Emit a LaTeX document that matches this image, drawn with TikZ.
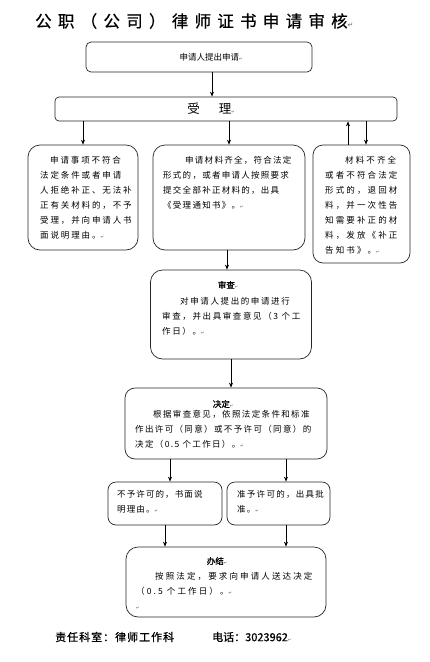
\documentclass[tikz,border=0pt]{standalone}
\usepackage{fontspec}
\setmainfont{Noto Sans CJK SC}
\newfontfamily\cjkfont{Noto Sans CJK SC}
\newfontfamily\markfont{DejaVu Sans}
\usetikzlibrary{arrows.meta, positioning}
% tiny paragraph mark as printed after each text
\newcommand{\pmk}{{\markfont\color{black!70}\fontsize{4}{4}\selectfont ↵}}

\begin{document}
\begin{tikzpicture}[x=1pt, y=-1pt, >=Stealth,
    flowbox/.style={draw=black!85, line width=0.7pt, inner sep=0pt},
    boxtext/.style={inner sep=0pt, align=left, anchor=north west,
      font=\cjkfont\addfontfeature{LetterSpace=#1}\fontsize{8.5}{15}\selectfont},
    boxtext/.default=16,
    headtext/.style={inner sep=0pt, font=\cjkfont\addfontfeature{FakeBold=1.2}\fontsize{8.5}{10}\selectfont},
    flow/.style={->, line width=0.7pt, >={Stealth[length=5pt, width=4pt]}}]
  \useasboundingbox (0,0) rectangle (430,662);

  % title
  \node[inner sep=0pt, anchor=west,
        font=\cjkfont\addfontfeature{LetterSpace=38,FakeBold=0.6}\fontsize{16.5}{18}\selectfont]
    (title) at (35,21) {公职（公司）律师证书申请审核{\markfont\color{black!60}\fontsize{7}{7}\selectfont ↵}};

  % boxes
  \node[flowbox, rounded corners=5pt, minimum width=226pt, minimum height=30pt] (apply) at (199,57) {};
  \node[flowbox, rounded corners=4pt, minimum width=342pt, minimum height=24pt] (accept) at (226,109) {};
  \node[flowbox, rounded corners=12pt, minimum width=110pt, minimum height=105pt] (reject) at (83,197.5) {};
  \node[flowbox, rounded corners=12pt, minimum width=152pt, minimum height=105pt] (issue) at (229,197.5) {};
  \node[flowbox, rounded corners=10pt, minimum width=97pt, minimum height=118pt] (supplement) at (361.5,204) {};
  \node[flowbox, rounded corners=12pt, minimum width=161pt, minimum height=89pt] (review) at (231,314.5) {};
  \node[flowbox, rounded corners=10pt, minimum width=202pt, minimum height=71pt] (decide) at (226,423.5) {};
  \node[flowbox, rounded corners=8pt, minimum width=114pt, minimum height=43pt] (deny) at (165,503.5) {};
  \node[flowbox, rounded corners=8pt, minimum width=103pt, minimum height=43pt] (grant) at (278.5,503.5) {};
  \node[flowbox, rounded corners=12pt, minimum width=200pt, minimum height=70pt] (finish) at (226,582) {};

  % texts
  \node[inner sep=0pt, font=\cjkfont\fontsize{8.5}{10}\selectfont] at ([xshift=12pt]apply.center) {申请人提出申请\pmk};
  \node[inner sep=0pt, font=\cjkfont\fontsize{12.5}{12}\selectfont] at (211,109) {受\hspace{19pt}理\pmk};
  \node[boxtext=22] at (40,156) {\hspace*{10pt}申请事项不符合\\法定条件或者申请\\人拒绝补正、无法补\\正有关材料的，不予\\受理，并向申请人书\\面说明理由。\pmk};
  \node[boxtext=15] at (163,156) {\hspace*{22pt}申请材料齐全，符合法定\\形式的，或者申请人按照要求\\提交全部补正材料的，出具\\《受理通知书》。\pmk};
  \node[boxtext=25] at (325,156) {\hspace*{20pt}材料不齐全\\或者不符合法定\\形式的，退回材\\料，并一次性告\\知需要补正的材\\料，发放《补正\\告知书》。\pmk};
  \node[headtext] at (228,285) {审查\pmk};
  \node[boxtext=19] at (162,297) {\hspace*{18pt}对申请人提出的申请进行\\审查，并出具审查意见（3 个工\\作日）。\pmk};
  \node[headtext] at (223,404) {决定\pmk};
  \node[boxtext=16] at (135,410) {\hspace*{18pt}根据审查意见，依照法定条件和标准\\作出许可（同意）或不予许可（同意）的\\决定（0.5 个工作日）。\pmk};
  \node[boxtext=13] at (117,490) {不予许可的，书面说\\明理由。\pmk};
  \node[boxtext=15] at (237,490) {准予许可的，出具批\\准。\pmk};
  \node[headtext] at (217,561) {办结\pmk};
  \node[boxtext=25] at (136,572) {\hspace*{19pt}按照法定，要求向申请人送达决定\\（0.5 个工作日）。\pmk\\\pmk};

  % footer
  \node[inner sep=0pt, anchor=west, font=\cjkfont\addfontfeature{LetterSpace=9,FakeBold=0.8}\fontsize{11}{12}\selectfont]
    (office) at (55,637) {责任科室：律师工作科};
  \node[inner sep=0pt, anchor=west, font=\cjkfont\addfontfeature{FakeBold=0.8}\fontsize{11}{12}\selectfont]
    (phone) at (212,637) {电话：3023962\pmk};

  % connectors
  \draw[flow] ([xshift=13pt]apply.south) -- ([xshift=13pt]apply.south |- accept.north);
  \draw[flow] (reject.north |- accept.south) -- (reject.north);
  \draw[flow] (issue.north |- accept.south) -- (issue.north);
  \draw[flow] ([xshift=-13.5pt]supplement.north) -- ([xshift=-13.5pt]supplement.north |- accept.south);
  \draw[flow] ([xshift=4.5pt]supplement.north |- accept.south) -- ([xshift=4.5pt]supplement.north);
  \draw[flow] ([xshift=-2pt]issue.south) -- ([xshift=-2pt]issue.south |- review.north);
  \draw[flow] (review.south) -- (review.south |- decide.north);
  \draw[flow] ([xshift=5pt]deny.north |- decide.south) -- ([xshift=5pt]deny.north);
  \draw[flow] ([xshift=7.5pt]grant.north |- decide.south) -- ([xshift=7.5pt]grant.north);
  \draw[flow] (deny.south) -- (deny.south |- finish.north);
  \draw[flow] ([xshift=7.5pt]grant.south) -- ([xshift=7.5pt]grant.south |- finish.north);
\end{tikzpicture}
\end{document}
